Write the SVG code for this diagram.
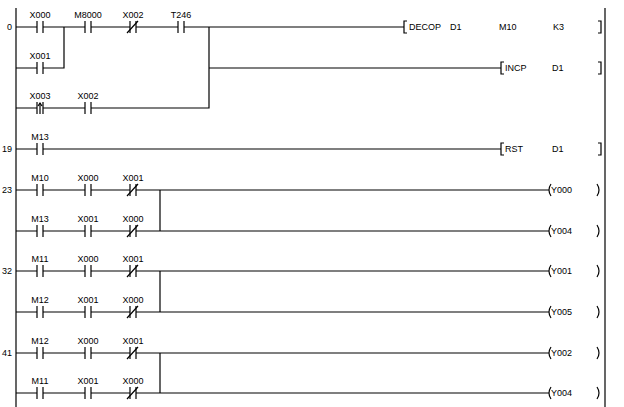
<svg xmlns="http://www.w3.org/2000/svg" xmlns:xlink="http://www.w3.org/1999/xlink" width="624" height="407" viewBox="0 0 624 407">
<style>
line,path,polyline{stroke:#000;stroke-width:1.2;fill:none}
text{font-family:"Liberation Sans",Arial,sans-serif;font-size:9px;fill:#000}
.l{text-anchor:middle}
.n{text-anchor:end}
</style>
<defs>
<g id="no"><line x1="-3" y1="-6" x2="-3" y2="6"/><line x1="3" y1="-6" x2="3" y2="6"/></g>
<g id="nc"><line x1="-3" y1="-6" x2="-3" y2="6"/><line x1="3" y1="-6" x2="3" y2="6"/><line x1="-6" y1="6" x2="5" y2="-6"/></g>
<g id="pl"><line x1="-3" y1="-6" x2="-3" y2="6"/><line x1="3" y1="-6" x2="3" y2="6"/><line x1="0" y1="6" x2="0" y2="-5"/><path d="M-2,-2 L0,-5 L2,-2"/></g>
<path id="lb" d="M3,-6 H0 V6 H3 M0,0 H-3"/>
<path id="rb" d="M-3,-6 H0 V6 H-3"/>
<path id="lc" d="M3,-6 Q-1,0 3,6 M1,0 H-3"/>
<path id="rc" d="M-3,-6 Q1,0 -3,6"/>
</defs>
<rect width="624" height="407" fill="#fff"/>
<g id="rails"><line x1="16" y1="8" x2="16" y2="407"/><line x1="605" y1="8" x2="605" y2="407"/></g>
<g id="connectors">
<path d="M16,27 H37 M43,27 H85 M91,27 H130 M136,27 H178 M184,27 H401"/>
<path d="M16,68 H37 M43,68 H64 V27"/>
<path d="M16,108 H37 M43,108 H85 M91,108 H209 V27 M209,68 H498"/>
<path d="M16,149 H37 M43,149 H498"/>
<path d="M16,190 H37 M43,190 H85 M91,190 H130 M136,190 H545 M16,231 H37 M43,231 H85 M91,231 H130 M136,231 H545 M160,190 V231"/>
<path d="M16,271 H37 M43,271 H85 M91,271 H130 M136,271 H545 M16,312 H37 M43,312 H85 M91,312 H130 M136,312 H545 M160,271 V312"/>
<path d="M16,353 H37 M43,353 H85 M91,353 H130 M136,353 H545 M16,393 H37 M43,393 H85 M91,393 H130 M136,393 H545 M160,353 V393"/>
</g>
<g id="steps"><text class="n" x="12" y="30">0</text><text class="n" x="12" y="152">19</text><text class="n" x="12" y="193">23</text><text class="n" x="12" y="274">32</text><text class="n" x="12" y="356">41</text></g>
<g id="r0">
<use href="#no" x="40" y="27"/><text class="l" x="40" y="18">X000</text>
<use href="#no" x="88" y="27"/><text class="l" x="88" y="18">M8000</text>
<use href="#nc" x="133" y="27"/><text class="l" x="133" y="18">X002</text>
<use href="#no" x="181" y="27"/><text class="l" x="181" y="18">T246</text>
<use href="#no" x="40" y="68"/><text class="l" x="40" y="59">X001</text>
<use href="#pl" x="40" y="108"/><text class="l" x="40" y="99">X003</text>
<use href="#no" x="88" y="108"/><text class="l" x="88" y="99">X002</text>
<use href="#lb" x="404" y="27"/><text x="409" y="30">DECOP</text><text x="450" y="30">D1</text><text x="499" y="30">M10</text><text x="553" y="30">K3</text><use href="#rb" x="601" y="27"/>
<use href="#lb" x="501" y="68"/><text x="505" y="71">INCP</text><text x="552" y="71">D1</text><use href="#rb" x="601" y="68"/>
</g>
<g id="r19">
<use href="#no" x="40" y="149"/><text class="l" x="40" y="140">M13</text>
<use href="#lb" x="501" y="149"/><text x="505" y="152">RST</text><text x="552" y="152">D1</text><use href="#rb" x="601" y="149"/>
</g>
<g id="r23">
<use href="#no" x="40" y="190"/><text class="l" x="40" y="181">M10</text>
<use href="#no" x="88" y="190"/><text class="l" x="88" y="181">X000</text>
<use href="#nc" x="133" y="190"/><text class="l" x="133" y="181">X001</text>
<use href="#no" x="40" y="231"/><text class="l" x="40" y="222">M13</text>
<use href="#no" x="88" y="231"/><text class="l" x="88" y="222">X001</text>
<use href="#nc" x="133" y="231"/><text class="l" x="133" y="222">X000</text>
<use href="#lc" x="548" y="190"/><text x="551" y="193">Y000</text><use href="#rc" x="600" y="190"/>
<use href="#lc" x="548" y="231"/><text x="551" y="234">Y004</text><use href="#rc" x="600" y="231"/>
</g>
<g id="r32">
<use href="#no" x="40" y="271"/><text class="l" x="40" y="262">M11</text>
<use href="#no" x="88" y="271"/><text class="l" x="88" y="262">X000</text>
<use href="#nc" x="133" y="271"/><text class="l" x="133" y="262">X001</text>
<use href="#no" x="40" y="312"/><text class="l" x="40" y="303">M12</text>
<use href="#no" x="88" y="312"/><text class="l" x="88" y="303">X001</text>
<use href="#nc" x="133" y="312"/><text class="l" x="133" y="303">X000</text>
<use href="#lc" x="548" y="271"/><text x="551" y="274">Y001</text><use href="#rc" x="600" y="271"/>
<use href="#lc" x="548" y="312"/><text x="551" y="315">Y005</text><use href="#rc" x="600" y="312"/>
</g>
<g id="r41">
<use href="#no" x="40" y="353"/><text class="l" x="40" y="344">M12</text>
<use href="#no" x="88" y="353"/><text class="l" x="88" y="344">X000</text>
<use href="#nc" x="133" y="353"/><text class="l" x="133" y="344">X001</text>
<use href="#no" x="40" y="393"/><text class="l" x="40" y="384">M11</text>
<use href="#no" x="88" y="393"/><text class="l" x="88" y="384">X001</text>
<use href="#nc" x="133" y="393"/><text class="l" x="133" y="384">X000</text>
<use href="#lc" x="548" y="353"/><text x="551" y="356">Y002</text><use href="#rc" x="600" y="353"/>
<use href="#lc" x="548" y="393"/><text x="551" y="396">Y004</text><use href="#rc" x="600" y="393"/>
</g>
</svg>
